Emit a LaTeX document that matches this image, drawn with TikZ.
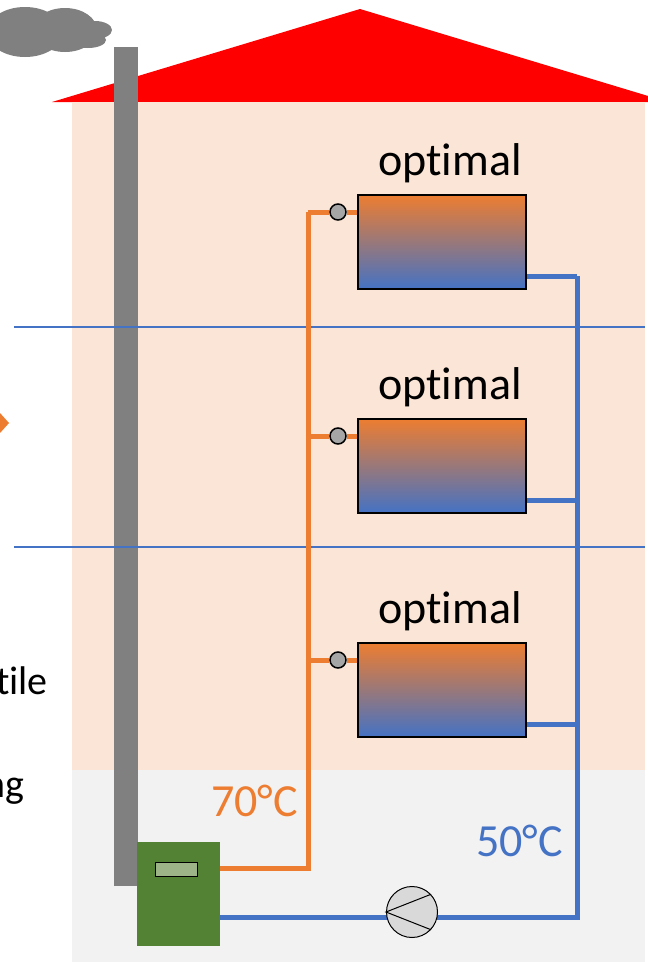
\documentclass[tikz,border=0pt]{standalone}
\usepackage{fontspec}
\setmainfont{Carlito}[Ligatures=NoCommon]
\usepackage{tikz}
\usetikzlibrary{positioning,calc}
\definecolor{naranja}{RGB}{237,125,49}
\definecolor{azul}{RGB}{68,114,196}
\definecolor{malva}{RGB}{190,117,138}
\definecolor{verde}{RGB}{84,130,53}
\definecolor{pantalla}{RGB}{157,179,136}
\definecolor{gris}{RGB}{128,128,128}
\definecolor{grisvalv}{RGB}{166,166,166}
\definecolor{rojo}{RGB}{255,0,0}
\definecolor{salmon}{RGB}{251,229,214}
\definecolor{sotano}{RGB}{242,242,242}
\tikzset{
  radiador/.style={draw=black,line width=1.5pt,top color=naranja,middle color=malva,
                   bottom color=azul,minimum width=168pt,minimum height=94pt,inner sep=0pt},
  valvula/.style={circle,draw=black,line width=1.5pt,fill=grisvalv,
                  minimum size=16pt,inner sep=0pt},
  ida/.style={naranja,line width=5pt},
  retorno/.style={azul,line width=5pt},
  piso/.style={azul,line width=1.2pt},
  rotulo/.style={font=\fontsize{46}{46}\selectfont,inner sep=0pt},
}

\begin{document}
\begin{tikzpicture}[x=1pt,y=-1pt]
    \useasboundingbox (0,0) rectangle (648,962);
    % humo
    \fill[gris] (25,32) ellipse [x radius=38,y radius=25]
                (65,30) ellipse [x radius=32,y radius=22]
                (95,30) ellipse [x radius=17,y radius=9]
                (88,40) ellipse [x radius=18,y radius=8];
    % casa
    \fill[rojo] (52,102) -- (360,9) -- (668,102) -- cycle;
    \fill[salmon] (72,102) rectangle (645,770);
    \fill[sotano] (72,770) rectangle (645,962);
    \fill[gris] (114,47) rectangle (138,886);
    \draw[piso] (14,327) -- (645,327);
    \draw[piso] (14,547) -- (645,547);
    % flecha y texto cortados a la izquierda
    \fill[naranja] (0,413) -- (9,423) -- (0,433) -- cycle;
    \node[rotulo,font=\fontsize{40}{40}\selectfont,anchor=base east] (t1) at (48,694) {tile};
    \node[rotulo,font=\fontsize{40}{40}\selectfont,anchor=base east] (t2) at (25,797) {ng};
    % caldera, bomba y tuberias
    \node[fill=verde,minimum width=83pt,minimum height=104pt,inner sep=0pt] (caldera) at (178.5,894) {};
    \node[draw=black,line width=1pt,fill=pantalla,minimum width=42pt,minimum height=14pt,
          inner sep=0pt] (display) at (176,869) {};
    \coordinate (codo) at (308,868);
    \coordinate (subida) at (308,212);
    \coordinate (fondo) at (577,917);
    \coordinate (bajada) at (577,276);
    \draw[ida] (caldera.east |- codo) -- (codo) -- (subida);
    \draw[retorno] (caldera.east |- fondo) -- (fondo) -- (bajada);
    \node[circle,draw=black,line width=1pt,fill=black!15,minimum size=51pt,inner sep=0pt]
        (bomba) at (412,912) {};
    \draw[line width=1pt] (bomba.43) -- (bomba.west) -- (bomba.-43);
    % radiadores
    \foreach \r/\y in {1/242,2/466,3/690} {
      \node[radiador] (r\r) at (442,\y) {};
      \node[rotulo,anchor=base] (o\r) at (450,\y-67) {optimal};
      \node[valvula] (v\r) at (338,\y-30) {};
      \draw[ida] (308,\y-30) -- (v\r) -- (v\r -| r\r.west);
      \draw[retorno] (r\r.east |- 0,\y+34) -- (577,\y+34);
    }
    \node[rotulo,text=naranja,anchor=base east] (t70) at (298,816) {70°C};
    \node[rotulo,text=azul,anchor=base east] (t50) at (563,856) {50°C};
  \end{tikzpicture}
\end{document}
